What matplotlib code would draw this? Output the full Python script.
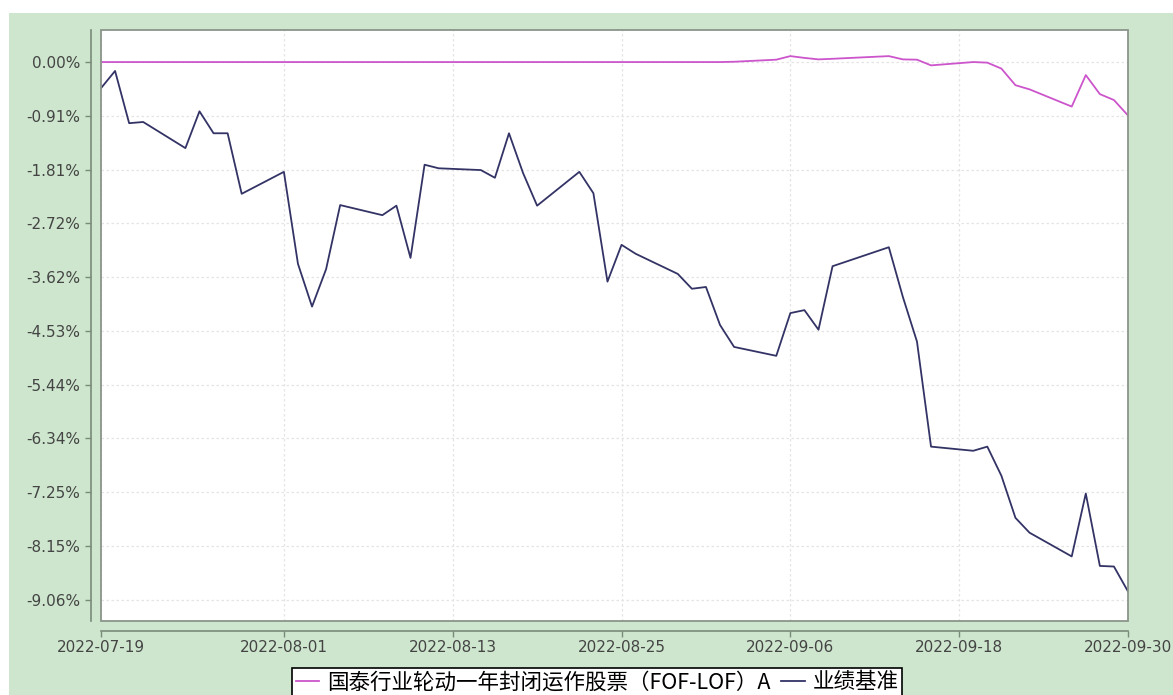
import matplotlib
matplotlib.use("Agg")
import matplotlib.pyplot as plt
import matplotlib.dates as mdates
from matplotlib.patches import Rectangle
import numpy as np
import pandas as pd

## trading days and cumulative returns (%)
dates = ["2022-07-19", "2022-07-20", "2022-07-21", "2022-07-22", "2022-07-25",
         "2022-07-26", "2022-07-27", "2022-07-28", "2022-07-29", "2022-08-01",
         "2022-08-02", "2022-08-03", "2022-08-04", "2022-08-05", "2022-08-08",
         "2022-08-09", "2022-08-10", "2022-08-11", "2022-08-12", "2022-08-15",
         "2022-08-16", "2022-08-17", "2022-08-18", "2022-08-19", "2022-08-22",
         "2022-08-23", "2022-08-24", "2022-08-25", "2022-08-26", "2022-08-29",
         "2022-08-30", "2022-08-31", "2022-09-01", "2022-09-02", "2022-09-05",
         "2022-09-06", "2022-09-07", "2022-09-08", "2022-09-09", "2022-09-13",
         "2022-09-14", "2022-09-15", "2022-09-16", "2022-09-19", "2022-09-20",
         "2022-09-21", "2022-09-22", "2022-09-23", "2022-09-26", "2022-09-27",
         "2022-09-28", "2022-09-29", "2022-09-30"]

navy_vals = [-0.44, -0.15, -1.03, -1.01, -1.45, -0.83, -1.20, -1.20, -2.22, -1.85,
             -3.40, -4.12, -3.49, -2.41, -2.58, -2.42, -3.30, -1.73, -1.79, -1.82,
             -1.95, -1.20, -1.87, -2.42, -1.85, -2.21, -3.70, -3.08, -3.23, -3.57,
             -3.82, -3.79, -4.43, -4.80, -4.95, -4.23, -4.18, -4.51, -3.44, -3.12,
             -3.96, -4.71, -6.48, -6.55, -6.48, -6.97, -7.68, -7.93, -8.33, -7.27,
             -8.49, -8.50, -8.92]

pink_vals = [0.0, 0.0, 0.0, 0.0, 0.0, 0.0, 0.0, 0.0, 0.0, 0.0,
             0.0, 0.0, 0.0, 0.0, 0.0, 0.0, 0.0, 0.0, 0.0, 0.0,
             0.0, 0.0, 0.0, 0.0, 0.0, 0.0, 0.0, 0.0, 0.0, 0.0,
             0.0, 0.0, 0.0, 0.005, 0.04, 0.10, 0.07, 0.045, 0.055, 0.10,
             0.045, 0.04, -0.056, 0.0, -0.01, -0.11, -0.39, -0.46, -0.75, -0.22,
             -0.54, -0.64, -0.90]

yticks = [0.00, -0.91, -1.81, -2.72, -3.62, -4.53, -5.44, -6.34, -7.25, -8.15, -9.06]
xticks = ["2022-07-19", "2022-08-01", "2022-08-13", "2022-08-25",
          "2022-09-06", "2022-09-18", "2022-09-30"]

name_fund = "国泰行业轮动一年封闭运作股票（FOF-LOF）A"
name_bench = "业绩基准"

x = pd.to_datetime(dates)
step = 0.9058

W, H = 1173, 695
fig = plt.figure(figsize=(W / 100, H / 100), dpi=100)
fig.patch.set_facecolor("white")
fig.patches.append(Rectangle((9 / W, 0), 1 - 9 / W, 1 - 13 / H, transform=fig.transFigure,
                             facecolor="#cde6cd", edgecolor="none", zorder=-10))

ax = fig.add_axes([101 / W, (H - 621) / H, (1128 - 101) / W, (621 - 30) / H])
ax.set_facecolor("white")

ax.plot(x, pink_vals, color="#cc55cc", lw=1.3, label=name_fund, zorder=3)
ax.plot(x, navy_vals, color="#333366", lw=1.3, label=name_bench, zorder=3)

ax.set_xlim(pd.Timestamp("2022-07-19"), pd.Timestamp("2022-09-30"))
ax.set_ylim(-9.058 - 0.36, 0.54)

ax.set_yticks([-i * step for i in range(11)])
ax.set_yticklabels(["%.2f%%" % v for v in yticks])
ax.set_xticks(pd.to_datetime(xticks))
ax.set_xticklabels(xticks)

ax.grid(True, color="#e4e4e4", lw=0.9, ls=(0, (2, 2)))
ax.set_axisbelow(True)

for s in ["top", "right"]:
    ax.spines[s].set_visible(False)
for s in ["left", "bottom"]:
    ax.spines[s].set_position(("outward", 7))
    ax.spines[s].set_color("#7a8a7a")
    ax.spines[s].set_linewidth(1.2)
ax.add_patch(Rectangle((0, 0), 1, 1, transform=ax.transAxes, fill=False,
                       edgecolor="#8a958a", lw=1.3, clip_on=False, zorder=5))

ax.tick_params(axis="both", colors="#7a8a7a", labelcolor="#444444", labelsize=11,
               length=4, width=1)
ax.tick_params(axis="y", pad=4)
ax.tick_params(axis="x", pad=3)

leg = fig.legend(loc="upper center", bbox_to_anchor=(597 / W, 1 - 668 / H), ncol=2,
                 frameon=True, fancybox=False, edgecolor="black", framealpha=1,
                 prop={"family": ["Noto Sans CJK SC", "DejaVu Sans"], "size": 15.5},
                 handlelength=1.1, handletextpad=0.35, columnspacing=0.5,
                 borderpad=0.15, borderaxespad=0)
leg.get_frame().set_linewidth(1.2)
for line in leg.get_lines():
    line.set_linewidth(1.3)

fig.savefig("out.png", dpi=100, facecolor=fig.get_facecolor())
